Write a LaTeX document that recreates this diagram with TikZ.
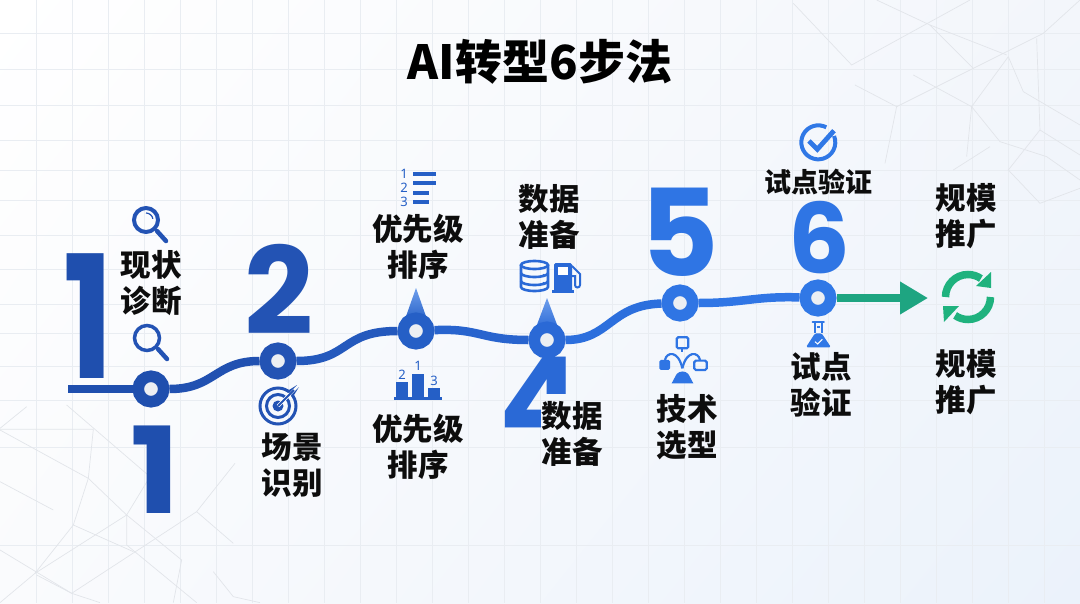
\documentclass[tikz,border=0pt]{standalone}
\usepackage{fontspec}
\usetikzlibrary{arrows.meta,shadings}
\newfontfamily\cjk{Noto Sans CJK SC}
\newfontfamily\digf{Poppins}
\newfontfamily\smalld{Noto Sans}
\definecolor{cA}{HTML}{1F4FAE}
\definecolor{cB}{HTML}{2353B4}
\definecolor{cC}{HTML}{255FC6}
\definecolor{cD}{HTML}{2A69D6}
\definecolor{cE}{HTML}{2F75E4}
\definecolor{cF}{HTML}{3078E6}
\definecolor{cG}{HTML}{1EA581}
\definecolor{cH}{HTML}{1FB27E}
\definecolor{gridc}{HTML}{E9EDF2}
\definecolor{polyc}{HTML}{E2E5EA}
\definecolor{hole}{HTML}{ECEFF3}
\definecolor{bgTL}{HTML}{FFFFFF}
\definecolor{bgTR}{HTML}{F3F6FB}
\definecolor{bgBL}{HTML}{FAFBFD}
\definecolor{bgBR}{HTML}{EBF2FB}
\tikzset{
  bignum/.style={inner sep=0pt,font=\digf\bfseries\fontsize{#1pt}{#1pt}\selectfont},
  lab/.style={inner sep=0pt,align=center,text=black!95,font=\cjk\bfseries\fontsize{30.5pt}{36.5pt}\selectfont},
  stepnode/.style={circle,draw=#1,line width=11.5pt,fill=hole,minimum size=25.5pt,inner sep=0pt},
  linkline/.style={line width=8.5pt,draw=#1},
  gridline/.style={draw=gridc,line width=0.9pt},
  polyline/.style={draw=polyc,line width=0.7pt},
  tinynum/.style={inner sep=0pt,font=\smalld\bfseries\fontsize{#1pt}{#1pt}\selectfont},
  zoomed/.style={x=0.3333pt,y=-0.3333pt},
}
\begin{document}
\begin{tikzpicture}[x=1pt,y=-1pt]
\useasboundingbox (0,0) rectangle (1080,603);
% background
\shade[upper left=bgTL,upper right=bgTR,lower left=bgBL,lower right=bgBR] (0,0) rectangle (1080,603);
\foreach \gx in {36,72,...,1044} \draw[gridline] (\gx,0) -- (\gx,603);
\foreach \gy in {33,69,105,140,170,200,235,269,304,333,366,400,447,545} \draw[gridline] (0,\gy) -- (1080,\gy);
% low-poly lines, bottom left
\begin{scope}[shift={(0,400)},zoomed]
\draw[polyline] (80,20) -- (0,85);
\draw[polyline] (0,88) -- (280,88) -- (265,235) -- (220,375) -- (105,520) -- (0,608);
\draw[polyline] (0,90) -- (265,235) -- (380,345) -- (545,480) -- (520,608);
\draw[polyline] (0,245) -- (160,330);
\draw[polyline] (200,15) -- (450,230) -- (380,345) -- (380,435) -- (590,608);
\draw[polyline] (220,375) -- (400,455);
\draw[polyline] (105,520) -- (380,345);
\draw[polyline] (110,525) -- (215,580) -- (590,335) -- (705,190);
\draw[polyline] (590,335) -- (700,430);
\draw[polyline] (0,450) -- (215,580) -- (300,608);
\draw[polyline] (640,515) -- (700,590) -- (780,608);
\end{scope}
% low-poly lines, top right
\begin{scope}[shift={(780,0)},zoomed]
\draw[polyline] (40,10) -- (215,195) -- (570,0);
\draw[polyline] (290,0) -- (450,75) -- (680,165);
\draw[polyline] (450,75) -- (580,205);
\draw[polyline] (400,225) -- (575,320) -- (660,425) -- (800,470) -- (900,540);
\draw[polyline] (225,255) -- (350,320) -- (315,490);
\draw[polyline] (350,320) -- (790,100) -- (900,0);
\draw[polyline] (685,170) -- (575,320) -- (560,470);
\draw[polyline] (685,170) -- (730,275) -- (900,375);
\draw[polyline] (770,115) -- (780,390) -- (900,465);
\draw[polyline] (780,390) -- (685,510) -- (780,610) -- (900,565);
\draw[polyline] (520,510) -- (630,440);
\end{scope}
% title
\node[inner sep=0pt,text=black,font=\cjk\bfseries\fontsize{47pt}{47pt}\selectfont] (title) at (540,62) {AI转型6步法};
% big digits
\node[bignum=171,text=cA] (d1) at (88.4,316.5) {\scalebox{0.78}[1]{1}};
\node[bignum=120,text=cA] (d1b) at (155,470) {\scalebox{1.1}[1]{1}};
\node[bignum=121,text=cB] (d2) at (279,289) {2};
\begin{scope}
\clip (490,320) -- (565,320) -- (565,393) -- (540,393) -- (540,470) -- (490,470) -- cycle;
\node[bignum=120,text=cD] (d4) at (540,400) {4};
\end{scope}
\node[bignum=121,text=cE] (d5) at (680,232) {5};
\node[bignum=97,text=cE] (d6) at (819,238) {6};
% spikes
\shade[top color=cE!70!white,bottom color=cC] (416,288) -- (404,322) -- (428,322) -- cycle;
\shade[top color=cE!70!white,bottom color=cD] (547,298) -- (535,330) -- (559,330) -- cycle;
% steps
\node[stepnode=cA] (n1) at (151,389) {};
\node[stepnode=cB] (n2) at (278,361) {};
\node[stepnode=cC] (n3) at (416,331) {};
\node[stepnode=cD] (n4) at (547,340) {};
\node[stepnode=cE] (n5) at (680,303) {};
\node[stepnode=cF] (n6) at (818,298) {};
\coordinate (start) at (68,389);
\coordinate (tip) at (928,298);
% connectors
\draw[linkline=cA] (start) -- (n1);
\draw[linkline=cA!50!cB] (n1) .. controls (215,389) and (215,361) .. (n2);
\draw[linkline=cB!50!cC] (n2) .. controls (350,361) and (340,331) .. (n3);
\draw[linkline=cC!50!cD] (n3) .. controls (480,328) and (480,340) .. (n4);
\draw[linkline=cD!50!cE] (n4) .. controls (610,340) and (610,305) .. (n5);
\draw[linkline=cE!50!cF] (n5) .. controls (745,303) and (755,296) .. (n6);
\draw[line width=8.5pt,draw=cG,-{Triangle[length=28pt,width=31pt]}] (n6) -- (tip);
% labels
\node[lab] (l1) at (151,283) {现状\\诊断};
\node[lab] (l2) at (292,465) {场景\\识别};
\node[lab] (l3a) at (418,247) {优先级\\排序};
\node[lab] (l3b) at (418,447) {优先级\\排序};
\node[lab] (l4a) at (549,217) {数据\\准备};
\node[lab] (l4b) at (572,434) {数据\\准备};
\node[lab] (l5) at (687,427) {技术\\选型};
\node[lab,font=\cjk\bfseries\fontsize{27pt}{27pt}\selectfont] (l6a) at (818,182) {试点验证};
\node[lab] (l6b) at (821,385) {试点\\验证};
\node[lab] (l7a) at (966,216) {规模\\推广};
\node[lab] (l7b) at (966,382) {规模\\推广};
% magnifiers
\begin{scope}[shift={(146,220)}]
\draw[cB,line width=4pt] (0,0) circle[radius=12pt];
\draw[cB,line width=4.5pt,line cap=round] (11,11) -- (20,21);
\draw[cB,line width=1.2pt] (0,-7) arc[start angle=90,end angle=10,radius=7pt];
\end{scope}
\begin{scope}[shift={(147,338)}]
\draw[cB,line width=3.5pt] (0,0) circle[radius=12.5pt];
\draw[cB,line width=4.5pt,line cap=round] (11,11) -- (20,21);
\end{scope}
% target
\begin{scope}[shift={(278,406)}]
\draw[cB,line width=3pt] (0,0) circle[radius=18pt];
\draw[cB,line width=3pt] (0,0) circle[radius=11.5pt];
\fill[cB] (0,0) circle[radius=5.5pt];
\draw[white,line width=3.5pt] (0,0) -- (16,-16);
\draw[cB,line width=1.8pt] (0,0) -- (16,-16);
\fill[cB] (13,-11) -- (21,-19) -- (16,-11) -- cycle;
\fill[cB] (11,-13) -- (19,-21) -- (11,-16) -- cycle;
\end{scope}
% ranked list
\node[tinynum=13,text=cC] (r1) at (404,174) {1};
\node[tinynum=13,text=cC] (r2) at (404,188) {2};
\node[tinynum=13,text=cC] (r3) at (404,202) {3};
\foreach \ly/\lx in {174/436,183/436,193/429,202/429} \draw[cC,line width=3.6pt] (413,\ly) -- (\lx,\ly);
% podium
\fill[cC] (396,382) rectangle (408,397);
\fill[cC] (412,374) rectangle (424,397);
\fill[cC] (428,388) rectangle (440,397);
\fill[cC] (394,397) rectangle (442,399.5);
\node[tinynum=13,text=cC] (p2) at (402,375) {2};
\node[tinynum=13,text=cC] (p1) at (418,366) {1};
\node[tinynum=13,text=cC] (p3) at (434,381) {3};
% database
\begin{scope}[shift={(534.5,276)}]
\draw[cD,line width=2.6pt] (0,-11) ellipse[x radius=13.5pt,y radius=4pt];
\draw[cD,line width=2.6pt] (-13.5,-11) -- (-13.5,11) arc[start angle=180,end angle=360,x radius=13.5pt,y radius=4pt] -- (13.5,-11);
\draw[cD,line width=2.6pt] (-13.5,-3) arc[start angle=180,end angle=360,x radius=13.5pt,y radius=4pt];
\draw[cD,line width=2.6pt] (-13.5,5) arc[start angle=180,end angle=360,x radius=13.5pt,y radius=4pt];
\fill[cD] (9,-1) circle[radius=1.2pt] (9,7) circle[radius=1.2pt] (9,14) circle[radius=1.2pt];
\end{scope}
% pump
\fill[cD,rounded corners=1.5pt] (554,263) rectangle (572,292);
\fill[white] (558,267) rectangle (568,275);
\fill[cD] (552,290) rectangle (574,292.5);
\draw[cD,line width=2pt,line cap=round] (572,266) -- (580,274) -- (580,285) arc[start angle=0,end angle=-180,radius=2.5pt] -- (575,276) -- (572,276);
% tech flow
\begin{scope}[shift={(630,120)},zoomed]
\draw[cE,line width=2.2pt,rounded corners=1.5pt] (140,652) rectangle (175,685);
\fill[cE,rounded corners=1.5pt] (88,720) rectangle (120,750);
\draw[cE,line width=2.2pt,rounded corners=1.5pt] (193,722) rectangle (230,750);
\draw[cE,line width=2pt] (157,685) -- (157,697);
\draw[cE,line width=2.2pt] (105,720) .. controls (110,695) and (145,690) .. (157,745);
\draw[cE,line width=2.2pt] (210,720) .. controls (205,695) and (170,690) .. (157,745);
\fill[cE] (125,790) -- (140,762) .. controls (150,752) and (165,752) .. (175,762) -- (190,790) -- cycle;
\end{scope}
% flask
\begin{scope}[shift={(630,120)},zoomed]
\draw[cF,line width=2pt,line cap=round] (548,605) -- (582,605);
\draw[cF,line width=2pt] (555,605) -- (555,640) (575,605) -- (575,640);
\fill[cF,rounded corners=1.5pt] (555,640) -- (575,640) -- (603,682) -- (528,682) -- cycle;
\draw[white,line width=1pt] (555,665) -- (563,672) -- (577,658);
\fill[cF] (560,618) rectangle (570,625);
\end{scope}
% check badge
\begin{scope}[shift={(630,120)},zoomed]
\draw[cF,line width=4pt] ([shift={(62:17pt)}]565,67) arc[start angle=62,end angle=382,radius=17pt];
\draw[cF,line width=4.8pt] (537,63) -- (562,88) -- (612,32);
\end{scope}
% refresh
\begin{scope}[shift={(968,297)}]
\draw[cH,line width=7.5pt] (180:22.5pt) arc[start angle=180,end angle=55,radius=22.5pt];
\fill[cH] (23,-25) -- (23,-9) -- (8,-11) -- cycle;
\draw[cH,line width=7.5pt] (0:22.5pt) arc[start angle=0,end angle=-125,radius=22.5pt];
\fill[cH] (-25,9) -- (-9,9) -- (-24,25) -- cycle;
\end{scope}
\end{tikzpicture}
\end{document}
